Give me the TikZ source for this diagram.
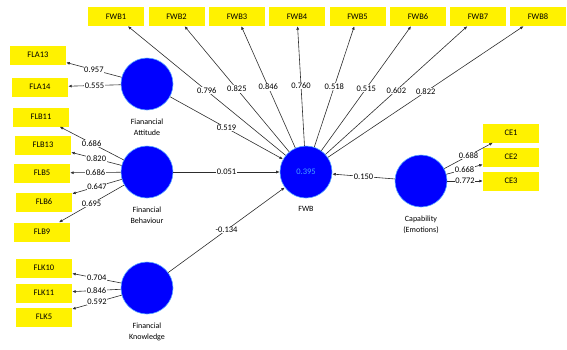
\documentclass[tikz,border=0pt]{standalone}
\usepackage{fontspec}
\setmainfont{Carlito}
\usetikzlibrary{arrows.meta}
\begin{document}
\begin{tikzpicture}[x=1pt,y=-1pt,
 ind/.style={fill=yellow, minimum width=56pt, minimum height=19pt, inner sep=0pt, font=\fontsize{8.5}{10}\selectfont},
 lv/.style={circle, fill={rgb,255:red,0;green,0;blue,255}, draw={rgb,255:red,90;green,170;blue,255}, line width=0.6pt, minimum size=52pt, inner sep=0pt},
 conn/.style={draw={rgb,255:red,45;green,45;blue,45}, line width=0.6pt, -{Latex[length=3.5pt,width=3pt]}},
 lbl/.style={fill=white, inner sep=0.6pt, font=\fontsize{8.5}{10}\selectfont},
 captxt/.style={align=center, anchor=north, inner sep=1pt, font=\fontsize{8}{11}\selectfont}
]
\useasboundingbox (0,0) rectangle (567,349);
% latent variables
\node[lv] (FA) at (147,84) {};
\node[lv] (FB) at (147,172) {};
\node[lv] (FK) at (147,288) {};
\node[lv, text={rgb,255:red,70;green,165;blue,255}, font=\fontsize{8.5}{10}\selectfont] (FWB) at (306,172) {0.395};
\node[lv] (CAP) at (421,181) {};
\node[captxt] (FAt) at ([yshift=-7pt]FA.south) {Fianancial\\Attitude};
\node[captxt] (FBt) at ([yshift=-7pt]FB.south) {Financial\\Behaviour};
\node[captxt] (FKt) at ([yshift=-7pt]FK.south) {Financial\\Knowledge};
\node[captxt] (FWBt) at ([yshift=-7pt]FWB.south) {FWB};
\node[captxt] (CAPt) at ([yshift=-7pt]CAP.south) {Capability\\(Emotions)};
% indicators
\node[ind] (FWB1) at (116,16.5) {FWB1};
\node[ind] (FWB2) at (176.5,16.5) {FWB2};
\node[ind] (FWB3) at (237,16.5) {FWB3};
\node[ind] (FWB4) at (297,16.5) {FWB4};
\node[ind] (FWB5) at (357.5,16.5) {FWB5};
\node[ind] (FWB6) at (418,16.5) {FWB6};
\node[ind] (FWB7) at (478,16.5) {FWB7};
\node[ind] (FWB8) at (538,16.5) {FWB8};
\node[ind] (FLA13) at (38,55) {FLA13};
\node[ind] (FLA14) at (40,87) {FLA14};
\node[ind] (FLB11) at (41,117) {FLB11};
\node[ind] (FLB13) at (43,145) {FLB13};
\node[ind] (FLB5) at (42,173) {FLB5};
\node[ind] (FLB6) at (44,202) {FLB6};
\node[ind] (FLB9) at (42,232) {FLB9};
\node[ind] (FLK10) at (44,268) {FLK10};
\node[ind] (FLK11) at (44,293) {FLK11};
\node[ind] (FLK5) at (44,317) {FLK5};
\node[ind] (CE1) at (511,133) {CE1};
\node[ind] (CE2) at (511,157) {CE2};
\node[ind] (CE3) at (511,181) {CE3};
% outer loadings
\draw[conn] (FWB) -- node[lbl]{0.796} (FWB1);
\draw[conn] (FWB) -- node[lbl]{0.825} (FWB2);
\draw[conn] (FWB) -- node[lbl]{0.846} (FWB3);
\draw[conn] (FWB) -- node[lbl]{0.760} (FWB4);
\draw[conn] (FWB) -- node[lbl]{0.518} (FWB5);
\draw[conn] (FWB) -- node[lbl]{0.515} (FWB6);
\draw[conn] (FWB) -- node[lbl]{0.602} (FWB7);
\draw[conn] (FWB) -- node[lbl]{0.822} (FWB8);
\draw[conn] (FA) -- node[lbl]{0.957} (FLA13);
\draw[conn] (FA) -- node[lbl]{0.555} (FLA14);
\draw[conn] (FB) -- node[lbl]{0.686} (FLB11);
\draw[conn] (FB) -- node[lbl]{0.820} (FLB13);
\draw[conn] (FB) -- node[lbl]{0.686} (FLB5);
\draw[conn] (FB) -- node[lbl]{0.647} (FLB6);
\draw[conn] (FB) -- node[lbl]{0.695} (FLB9);
\draw[conn] (FK) -- node[lbl]{0.704} (FLK10);
\draw[conn] (FK) -- node[lbl]{0.846} (FLK11);
\draw[conn] (FK) -- node[lbl]{0.592} (FLK5);
\draw[conn] (CAP) -- node[lbl]{0.688} (CE1);
\draw[conn] (CAP) -- node[lbl]{0.668} (CE2);
\draw[conn] (CAP) -- node[lbl]{0.772} (CE3);
% path coefficients
\draw[conn] (FA) -- node[lbl]{0.519} (FWB);
\draw[conn] (FB) -- node[lbl]{0.051} (FWB);
\draw[conn] (FK) -- node[lbl]{-0.134} (FWB);
\draw[conn] (CAP) -- node[lbl]{0.150} (FWB);
\end{tikzpicture}
\end{document}
